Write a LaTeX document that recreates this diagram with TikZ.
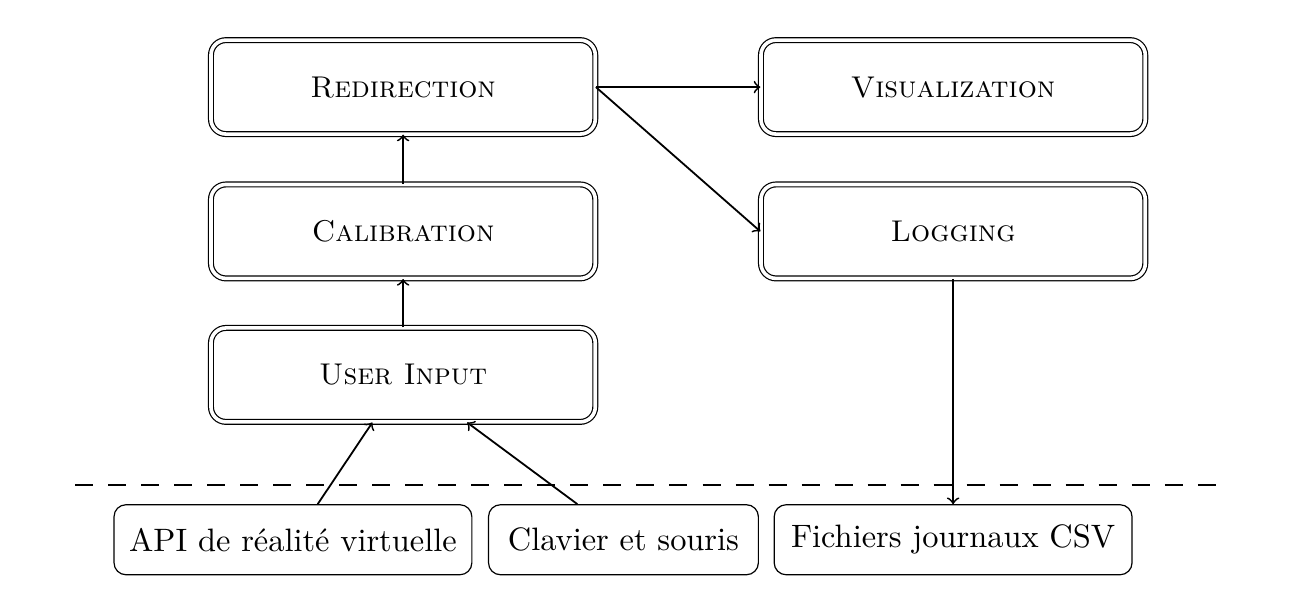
\documentclass[tikz,border=0pt]{standalone}
\usepackage{tikz}
\usetikzlibrary{arrows,positioning,calc}

\tikzset{
  module/.style={draw, double, double distance=1.2pt, rounded corners=5pt,
    minimum width=4.5cm, minimum height=1.1cm, font=\normalsize\scshape},
  source/.style={draw, rounded corners=4pt, minimum height=0.82cm,
    inner xsep=2pt, font=\fontsize{10.8}{13}\selectfont},
  link/.style={->, semithick}
}

\begin{document}
\begin{tikzpicture}
				\useasboundingbox (0,0) rectangle (15.21,-6.97);
				% modules
				\node[module] (redir) at (4.72,-1.02) {Redirection};
				\node[module] (calib) at (4.72,-2.71) {Calibration};
				\node[module] (input) at (4.72,-4.39) {User Input};
				\node[module] (visu) at (11.16,-1.02) {Visualization};
				\node[module] (logg) at (11.16,-2.71) {Logging};
				% external
				\coordinate (sepl) at (0.88,-5.68);
				\coordinate (sepr) at (14.31,-5.68);
				\draw[dashed, dash pattern=on 6pt off 5pt] (sepl) -- (sepr);
				\node[source, minimum width=4.19cm] (api) at (3.43,-6.32) {API de réalité virtuelle};
				\node[source, minimum width=3.16cm] (clav) at (7.30,-6.32) {Clavier et souris};
				\node[source, minimum width=4.19cm] (csv) at (11.16,-6.32) {Fichiers journaux CSV};
				% links
				\draw[link] (input) -- (calib);
				\draw[link] (calib) -- (redir);
				\draw[link] (redir.east) -- (visu.west);
				\draw[link] (redir.east) -- (logg.west);
				\draw[link] ($(api.north)+(0.29,0)$) -- ($(input.south)+(-0.36,0)$);
				\draw[link] ($(clav.north)+(-0.54,0)$) -- ($(input.south)+(0.75,0)$);
				\draw[link] (logg) -- (csv);
\end{tikzpicture}
\end{document}
